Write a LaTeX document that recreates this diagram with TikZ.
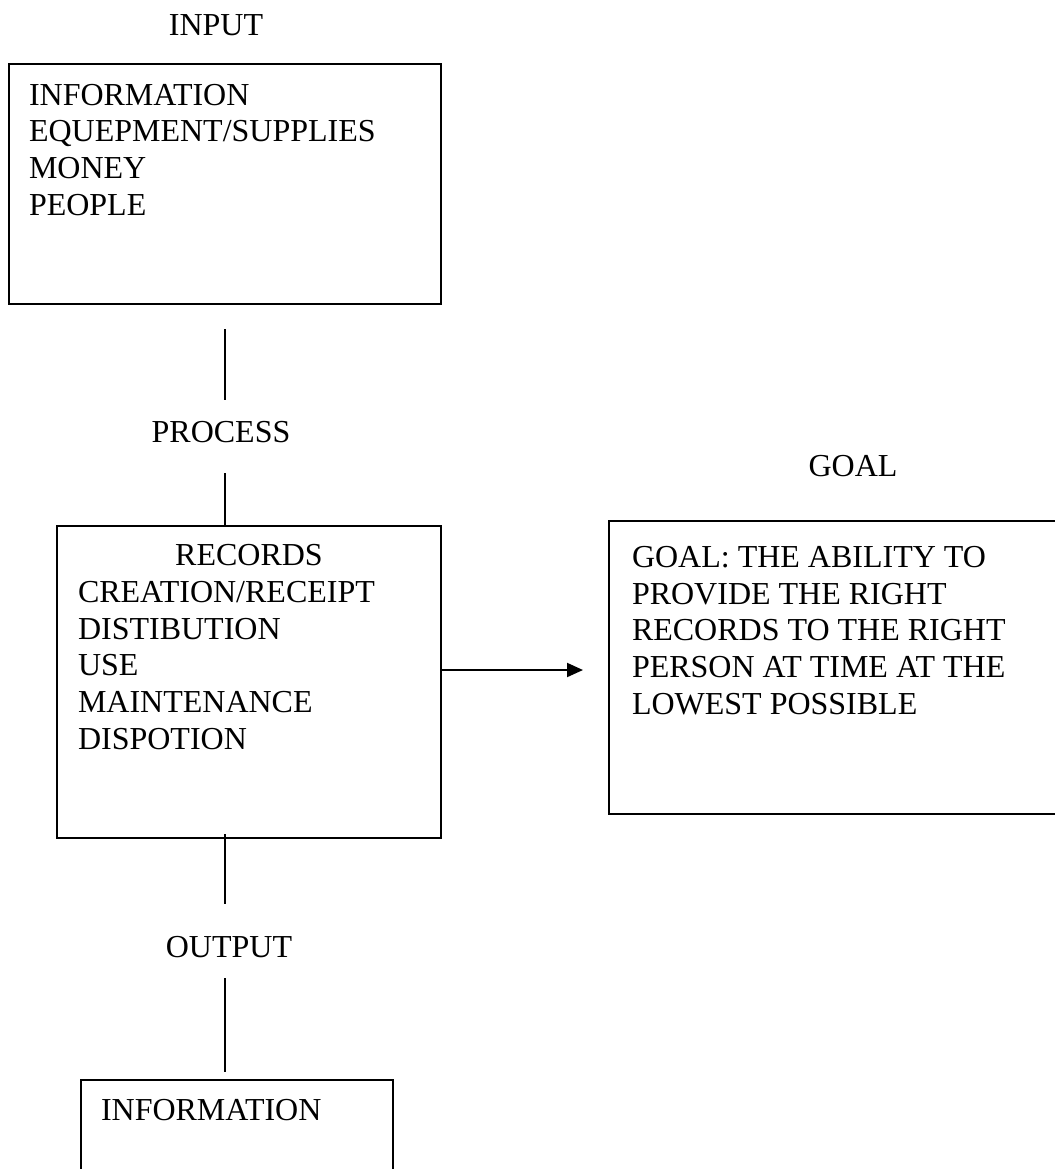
\documentclass[tikz,border=0pt]{standalone}
\usepackage{fontspec}
\setmainfont{Liberation Serif}
\usetikzlibrary{positioning,arrows.meta}

\begin{document}
\begin{tikzpicture}[x=0.5pt, y=-0.5pt, line width=1pt,
		box/.style={draw, rectangle, inner sep=0pt},
		txt/.style={inner sep=0pt, font=\fontsize{16pt}{18.4pt}\selectfont},
		list/.style={txt, align=left}]
		\useasboundingbox (0,0) rectangle (1055,1169);

		\node[txt] (input) at (216,25.5) {INPUT};
		\node[txt] (process) at (221,432) {PROCESS};
		\node[txt] (goal) at (853,466) {GOAL};
		\node[txt] (output) at (229,947) {OUTPUT};

		\node[box, minimum width=216pt, minimum height=120pt] (inbox) at (225,184) {};
		\node[box, minimum width=192pt, minimum height=156pt] (procbox) at (249,682) {};
		\node[box, minimum width=233.5pt, minimum height=146.5pt] (goalbox) at (842.5,667.5) {};
		\node[box, minimum width=156pt, minimum height=60pt] (outbox) at (237,1140) {};

		\node[list, below right=10pt and 10pt of inbox.north west] (inlist) {INFORMATION\\EQUEPMENT/SUPPLIES\\MONEY\\PEOPLE};
		\node[txt, below=9pt of procbox.north] (records) {RECORDS};
		\node[list, below right=27.5pt and 10.5pt of procbox.north west] (steps) {CREATION/RECEIPT\\DISTIBUTION\\USE\\MAINTENANCE\\DISPOTION};
		\node[list, below right=12.5pt and 11.5pt of goalbox.north west] (goaltext) {GOAL: THE ABILITY TO\\PROVIDE THE RIGHT\\RECORDS TO THE RIGHT\\PERSON AT TIME AT THE\\LOWEST POSSIBLE};
		\node[list, below right=9.5pt and 10pt of outbox.north west] (outlist) {INFORMATION};

		\draw[shorten <=12pt, shorten >=10.25pt] (inbox.south) -- (inbox.south |- process.north);
		\draw[shorten <=14.75pt] (inbox.south |- process.south) -- (inbox.south |- procbox.north);
		\draw[shorten <=-2.5pt, shorten >=15.75pt] (inbox.south |- procbox.south) -- (inbox.south |- output.north);
		\draw[shorten <=9.75pt, shorten >=3.5pt] (inbox.south |- output.south) -- (inbox.south |- outbox.north);
		\draw[-{Triangle[length=8pt, width=7pt]}, shorten >=12.5pt] ([yshift=6pt]procbox.east) -- ([yshift=6pt]procbox.east -| goalbox.west);
	\end{tikzpicture}
\end{document}
